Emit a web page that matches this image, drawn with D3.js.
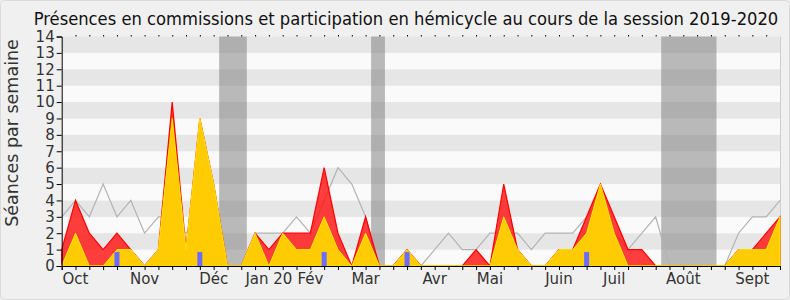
<!DOCTYPE html>
<html><head><meta charset="utf-8">
<script src="https://cdn.jsdelivr.net/npm/d3@7"></script>
<style>
html,body{margin:0;padding:0;background:#f0f0f0;}
svg{display:block;font-family:"DejaVu Sans",sans-serif;}
</style></head>
<body><svg id="c" width="790" height="300"></svg>
<script>
const title = "Présences en commissions et participation en hémicycle au cours de la session 2019-2020";
const yLabel = "Séances par semaine";
const weeks = d3.range(53);
const presences =     [1,4,2,1,2,1,0,1,10,1,9,5,0,0,2,1,2,2,2,6,2,0,3,0,0,1,0,0,0,0,1,0,5,1,0,0,1,1,3,5,3,1,1,0,0,0,0,0,0,1,1,2,3];
const participation = [0,2,0,0,1,1,0,1,9,1,9,5,0,0,2,0,2,1,1,3,1,0,2,0,0,1,0,0,0,0,0,0,3,1,0,0,1,1,2,5,2,0,0,0,0,0,0,0,0,1,1,1,3];
const mediane =       [3,4,3,5,3,4,2,3,3,2,3,3,0,0,2,2,2,3,2,4,6,5,3,0,0,1,0,1,2,1,1,2,2,2,1,2,2,2,3,4,2,1,2,3,0,0,0,0,0,2,3,3,4];
const questionWeeks = [4,10,19,25,38];
const questionValues = [1,1,1,1,1];
const vacations = [[12,13],[23,23],[44,47]];
const monthLabels = ["Oct","Nov","Déc","Jan 20","Fév","Mar","Avr","Mai","Juin","Juil","Août","Sept"];
const monthWeeks = [1,6,11,15,18,22,27,31,36,40,45,50];
const yTicks = d3.range(0,15);

const svg = d3.select("#c");
const W = 790, H = 300;
const m = {left:61.7, right:10, top:36.5, bottom:34};
const x = d3.scaleLinear().domain([0,52]).range([m.left, W-m.right]);
const y = d3.scaleLinear().domain([0,14]).range([H-m.bottom, m.top]);

svg.append("rect").attr("x",0.5).attr("y",0.5).attr("width",W-1).attr("height",H-1)
  .attr("rx",4).attr("fill","#f0f0f0").attr("stroke","#dadada");

// stripes
const g = svg.append("g");
g.selectAll("rect.stripe").data(yTicks.slice(0,14)).join("rect")
  .attr("x", x(0)).attr("width", x(52)-x(0))
  .attr("y", d => y(d+1)).attr("height", d => y(d)-y(d+1))
  .attr("fill", d => d%2===1 ? "#e6e6e6" : "#fafafa");
g.append("line").attr("x1",x(52)+0.5).attr("x2",x(52)+0.5).attr("y1",y(14)).attr("y2",y(0))
  .attr("stroke","#cfcfcf");

// vacations
g.selectAll("rect.vac").data(vacations).join("rect")
  .attr("x", d => x(d[0]-0.6)).attr("width", d => x(d[1]+0.4)-x(d[0]-0.6))
  .attr("y", y(14)).attr("height", y(0)-y(14))
  .attr("fill","rgba(120,120,120,0.5)");

// median line
g.append("path").datum(mediane)
  .attr("d", d3.line().x((d,i)=>x(i)).y(d=>y(d)))
  .attr("fill","none").attr("stroke","#b3b3b3").attr("stroke-width",1.2);

// presence area
g.append("path").datum(presences)
  .attr("d", d3.area().x((d,i)=>x(i)).y0(y(0)).y1(d=>y(d)))
  .attr("fill","rgba(255,20,20,0.82)").attr("stroke","#ff0000").attr("stroke-width",1.2);

// participation area
g.append("path").datum(participation)
  .attr("d", d3.area().x((d,i)=>x(i)).y0(y(0)).y1(d=>y(d)))
  .attr("fill","rgba(255,212,0,0.95)").attr("stroke","#ffe600").attr("stroke-width",1);

// questions bars
g.selectAll("rect.q").data(questionWeeks).join("rect")
  .attr("x", d => x(d)-2.5).attr("width",5)
  .attr("y", (d,i) => y(questionValues[i]*0.85)).attr("height",(d,i)=> y(0)-y(questionValues[i]*0.85))
  .attr("fill","#6b6bff");

// axes
const xa = svg.append("g").attr("transform",`translate(0,${y(0)})`)
  .call(d3.axisBottom(x).tickValues(weeks).tickSize(4).tickFormat(""));
xa.select(".domain").attr("stroke","#000");
const xt = svg.append("g").attr("transform",`translate(0,${y(14)})`)
  .call(d3.axisTop(x).tickValues(weeks.slice(1,52)).tickSize(1.5).tickFormat(""));
xt.select(".domain").remove();

svg.append("g").selectAll("text.month").data(monthLabels).join("text")
  .attr("x",(d,i)=>x(monthWeeks[i])).attr("y",284)
  .attr("text-anchor","middle").attr("font-size",15).attr("fill","#333")
  .text(d=>d);

const ya = svg.append("g").attr("transform",`translate(${x(0)},0)`)
  .call(d3.axisLeft(y).tickValues(yTicks).tickSize(5).tickPadding(2));
ya.select(".domain").attr("stroke","#000");
ya.selectAll("text").attr("font-size",15).attr("fill","#333").attr("font-family","DejaVu Sans");

svg.append("text").attr("transform","translate(18,133) rotate(-90)")
  .attr("text-anchor","middle").attr("font-size",17.5).attr("fill","#333").text(yLabel);

svg.append("text").attr("x",406).attr("y",25).attr("text-anchor","middle")
  .attr("font-size",18.2).attr("fill","#111")
  .style("font-family","'DejaVu Sans Condensed','DejaVu Sans',sans-serif").style("font-stretch","condensed")
  .text(title);
</script></body></html>
